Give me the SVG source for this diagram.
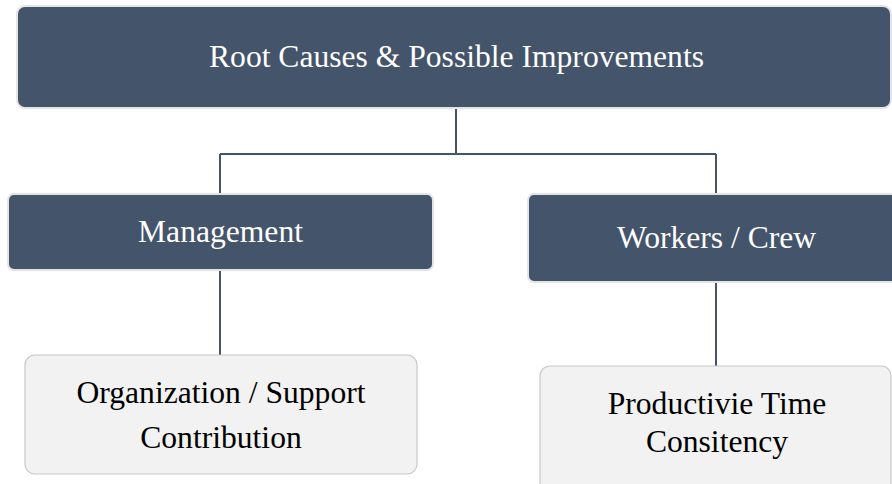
<svg xmlns="http://www.w3.org/2000/svg" width="892" height="484" viewBox="0 0 892 484">
<style>
.dark{fill:#44546a;stroke:#e4e4e4;stroke-width:2}
.light{fill:#f2f2f2;stroke:#c8c8c8;stroke-width:1.2}
.tw{font-family:"Liberation Serif","Times New Roman",serif;font-size:31.6px;fill:#ffffff;text-anchor:middle}
.tb{font-family:"Liberation Serif","Times New Roman",serif;font-size:31.6px;fill:#000000;text-anchor:middle}
.conn{fill:none;stroke:#44546a;stroke-width:2}
</style>
<rect width="892" height="484" fill="#ffffff"/>
<g id="connectors">
<path class="conn" d="M456 108 V154 M220 154 H716 M220 154 V195 M716 154 V195"/>
<path class="conn" d="M220 270 V355"/>
<path class="conn" d="M716 282 V366"/>
</g>
<g id="root">
<rect class="dark" x="17" y="6" width="874" height="102" rx="8"/>
<text class="tw" x="456.5" y="67">Root Causes &amp; Possible Improvements</text>
</g>
<g id="management">
<rect class="dark" x="8" y="194" width="425" height="76" rx="6"/>
<text class="tw" x="220.5" y="242">Management</text>
</g>
<g id="workers">
<rect class="dark" x="528" y="194" width="380" height="88" rx="6"/>
<text class="tw" x="716.5" y="248">Workers / Crew</text>
</g>
<g id="organization">
<rect class="light" x="25" y="355" width="392" height="119" rx="10"/>
<text class="tb" x="221" y="403">Organization / Support</text>
<text class="tb" x="221" y="448">Contribution</text>
</g>
<g id="productive">
<rect class="light" x="540" y="366" width="351" height="130" rx="10"/>
<text class="tb" x="717" y="414">Productivie Time</text>
<text class="tb" x="717" y="452">Consitency</text>
</g>
</svg>
